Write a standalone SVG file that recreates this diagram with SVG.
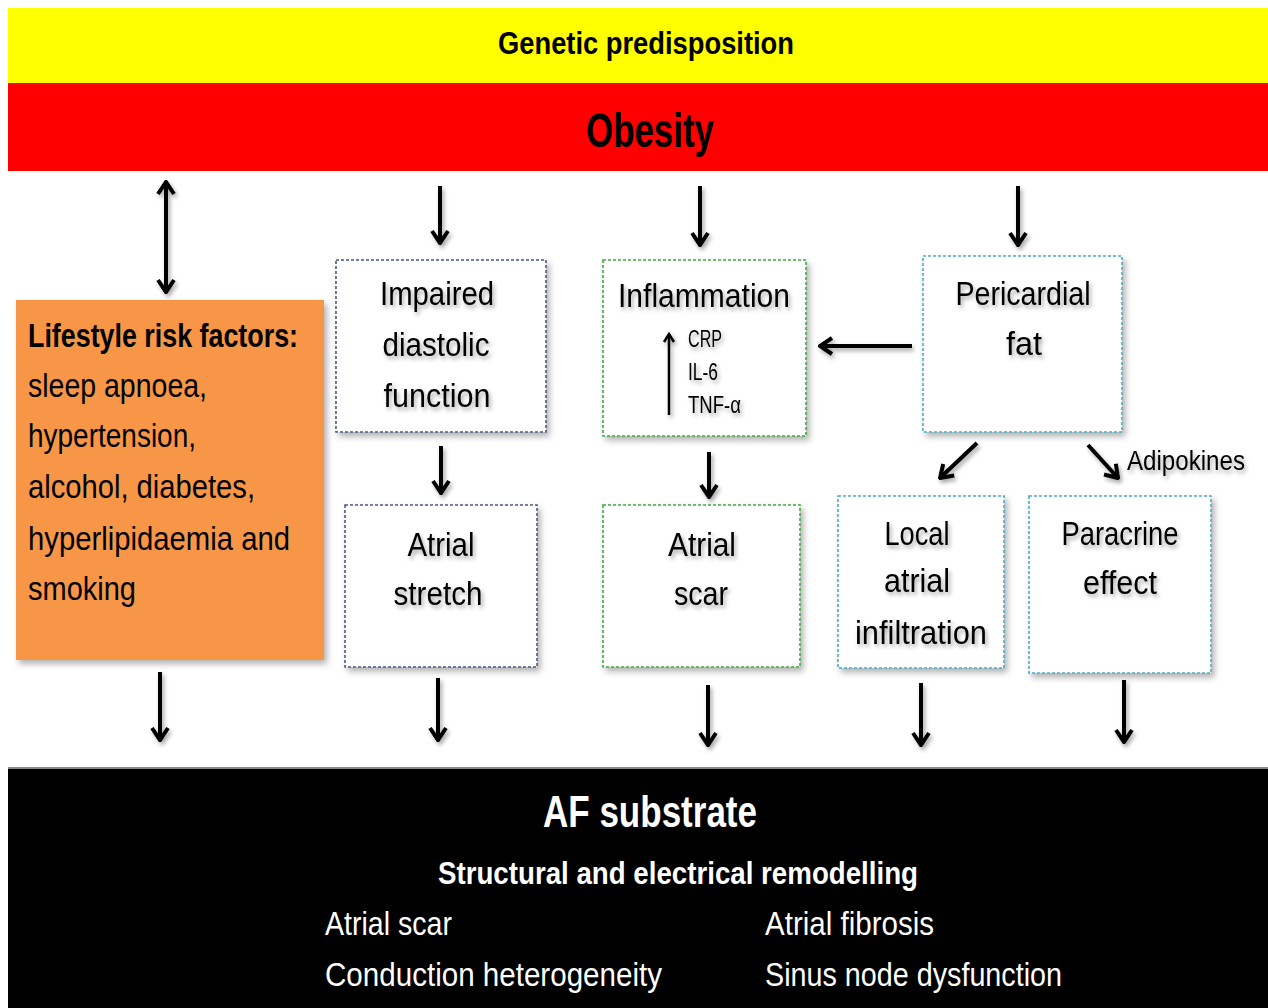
<svg xmlns="http://www.w3.org/2000/svg" width="1268" height="1008" viewBox="0 0 1268 1008">
<defs>
  <filter id="sh" x="-20%" y="-20%" width="140%" height="140%">
    <feDropShadow dx="2" dy="3" stdDeviation="2" flood-color="#000" flood-opacity="0.35"/>
  </filter>
  <filter id="bsh" x="-10%" y="-10%" width="120%" height="120%">
    <feDropShadow dx="3" dy="4" stdDeviation="3" flood-color="#000" flood-opacity="0.3"/>
  </filter>
  <marker id="ah" viewBox="0 0 16 20" markerWidth="16" markerHeight="20" refX="14" refY="10" orient="auto-start-reverse" markerUnits="userSpaceOnUse">
    <path d="M2,2 L14,10 L2,18" fill="none" stroke="#000" stroke-width="4"/>
  </marker>
  <marker id="ahs" viewBox="0 0 12 14" markerWidth="12" markerHeight="14" refX="10" refY="7" orient="auto" markerUnits="userSpaceOnUse">
    <path d="M2,2 L10,7 L2,12" fill="none" stroke="#000" stroke-width="2.5"/>
  </marker>
  <style>
    text { font-family: "Liberation Sans", Arial, sans-serif; fill: #000; }
    .b { font-weight: bold; }
    .m { text-anchor: middle; }
    .t32 { font-size: 33px; }
    .w { fill: #fff; }
    .box { fill: #fff; stroke-width: 1.6; stroke-dasharray: 3 2; }
    .blue { stroke: #4A5A86; }
    .green { stroke: #3DAA3D; }
    .teal { stroke: #4BACC6; }
    .arr { stroke: #000; stroke-width: 4; fill: none; marker-end: url(#ah); }
  </style>
</defs>
<rect x="0" y="0" width="1268" height="1008" fill="#fff"/>

<g id="genetic">
  <rect x="8" y="8" width="1260" height="75" fill="#FFFF00"/>
  <text class="b m" x="646" y="54" font-size="32" textLength="296" lengthAdjust="spacingAndGlyphs">Genetic predisposition</text>
</g>
<g id="obesity">
  <rect x="8" y="83" width="1260" height="88" fill="#FF0000"/>
  <text class="b m" x="650" y="147" font-size="48" textLength="128" lengthAdjust="spacingAndGlyphs">Obesity</text>
</g>

<g id="lifestyle">
  <rect x="16" y="300" width="308" height="360" fill="#F79646" filter="url(#bsh)"/>
  <text class="b t32" x="28" y="347" textLength="270" lengthAdjust="spacingAndGlyphs">Lifestyle risk factors:</text>
  <text class="t32" x="28" y="397" textLength="179" lengthAdjust="spacingAndGlyphs">sleep apnoea,</text>
  <text class="t32" x="28" y="447" textLength="168" lengthAdjust="spacingAndGlyphs">hypertension,</text>
  <text class="t32" x="28" y="498" textLength="227" lengthAdjust="spacingAndGlyphs">alcohol, diabetes,</text>
  <text class="t32" x="28" y="550" textLength="262" lengthAdjust="spacingAndGlyphs">hyperlipidaemia and</text>
  <text class="t32" x="28" y="600" textLength="108" lengthAdjust="spacingAndGlyphs">smoking</text>
</g>

<g id="impaired">
  <rect class="box blue" x="336" y="260" width="210" height="172" filter="url(#bsh)"/>
  <g filter="url(#sh)">
    <text class="m t32" x="437" y="305" textLength="114" lengthAdjust="spacingAndGlyphs">Impaired</text>
    <text class="m t32" x="436" y="356" textLength="107" lengthAdjust="spacingAndGlyphs">diastolic</text>
    <text class="m t32" x="437" y="407" textLength="107" lengthAdjust="spacingAndGlyphs">function</text>
  </g>
</g>

<g id="inflammation">
  <rect class="box green" x="603" y="260" width="203" height="176" filter="url(#bsh)"/>
  <g filter="url(#sh)">
    <text class="m t32" x="704" y="307" textLength="172" lengthAdjust="spacingAndGlyphs">Inflammation</text>
    <line x1="669" y1="415" x2="669" y2="334" stroke="#000" stroke-width="2.5" marker-end="url(#ahs)"/>
    <text x="688" y="347" font-size="23" textLength="34" lengthAdjust="spacingAndGlyphs">CRP</text>
    <text x="688" y="380" font-size="23" textLength="30" lengthAdjust="spacingAndGlyphs">IL-6</text>
    <text x="688" y="413" font-size="23" textLength="53" lengthAdjust="spacingAndGlyphs">TNF-α</text>
  </g>
</g>

<g id="pericardial">
  <rect class="box teal" x="923" y="256" width="199" height="176" filter="url(#bsh)"/>
  <g filter="url(#sh)">
    <text class="m t32" x="1023" y="305" textLength="135" lengthAdjust="spacingAndGlyphs">Pericardial</text>
    <text class="m t32" x="1024" y="355" textLength="36" lengthAdjust="spacingAndGlyphs">fat</text>
  </g>
</g>

<g id="stretch">
  <rect class="box blue" x="345" y="505" width="192" height="162" filter="url(#bsh)"/>
  <g filter="url(#sh)">
    <text class="m t32" x="441" y="556" textLength="67" lengthAdjust="spacingAndGlyphs">Atrial</text>
    <text class="m t32" x="438" y="605" textLength="89" lengthAdjust="spacingAndGlyphs">stretch</text>
  </g>
</g>

<g id="scar">
  <rect class="box green" x="603" y="505" width="197" height="162" filter="url(#bsh)"/>
  <g filter="url(#sh)">
    <text class="m t32" x="702" y="556" textLength="68" lengthAdjust="spacingAndGlyphs">Atrial</text>
    <text class="m t32" x="701" y="605" textLength="54" lengthAdjust="spacingAndGlyphs">scar</text>
  </g>
</g>

<g id="local">
  <rect class="box teal" x="838" y="496" width="166" height="172" filter="url(#bsh)"/>
  <g filter="url(#sh)">
    <text class="m t32" x="917" y="545" textLength="65" lengthAdjust="spacingAndGlyphs">Local</text>
    <text class="m t32" x="917" y="592" textLength="66" lengthAdjust="spacingAndGlyphs">atrial</text>
    <text class="m t32" x="921" y="644" textLength="132" lengthAdjust="spacingAndGlyphs">infiltration</text>
  </g>
</g>

<g id="paracrine">
  <rect class="box teal" x="1029" y="496" width="182" height="177" filter="url(#bsh)"/>
  <g filter="url(#sh)">
    <text class="m t32" x="1120" y="545" textLength="117" lengthAdjust="spacingAndGlyphs">Paracrine</text>
    <text class="m t32" x="1120" y="594" textLength="74" lengthAdjust="spacingAndGlyphs">effect</text>
  </g>
</g>

<g id="af-substrate">
  <rect x="8" y="768" width="1260" height="240" fill="#000"/>
  <line x1="8" y1="768" x2="1268" y2="768" stroke="#888" stroke-width="2"/>
  <text class="b m w" x="650" y="827" font-size="44" textLength="214" lengthAdjust="spacingAndGlyphs">AF substrate</text>
  <text class="b m w" x="678" y="884" font-size="32" textLength="480" lengthAdjust="spacingAndGlyphs">Structural and electrical remodelling</text>
  <text class="w" x="325" y="935" font-size="34" textLength="127" lengthAdjust="spacingAndGlyphs">Atrial scar</text>
  <text class="w" x="765" y="935" font-size="34" textLength="169" lengthAdjust="spacingAndGlyphs">Atrial fibrosis</text>
  <text class="w" x="325" y="986" font-size="34" textLength="337" lengthAdjust="spacingAndGlyphs">Conduction heterogeneity</text>
  <text class="w" x="765" y="986" font-size="34" textLength="297" lengthAdjust="spacingAndGlyphs">Sinus node dysfunction</text>
</g>

<g id="adipokines-label">
  <text x="1127" y="470" font-size="27" filter="url(#sh)" textLength="118" lengthAdjust="spacingAndGlyphs">Adipokines</text>
</g>

<g id="connectors" filter="url(#sh)">
  <line class="arr" x1="166" y1="182" x2="166" y2="292" marker-start="url(#ah)"/>
  <line class="arr" x1="440" y1="186" x2="440" y2="243"/>
  <line class="arr" x1="700" y1="186" x2="700" y2="245"/>
  <line class="arr" x1="1018" y1="186" x2="1018" y2="245"/>
  <line class="arr" x1="912" y1="346" x2="820" y2="346"/>
  <line class="arr" x1="441" y1="446" x2="441" y2="493"/>
  <line class="arr" x1="709" y1="452" x2="709" y2="497"/>
  <line class="arr" x1="977" y1="443" x2="940" y2="478"/>
  <line class="arr" x1="1088" y1="445" x2="1118" y2="478"/>
  <line class="arr" x1="160" y1="672" x2="160" y2="740"/>
  <line class="arr" x1="438" y1="678" x2="438" y2="740"/>
  <line class="arr" x1="708" y1="685" x2="708" y2="745"/>
  <line class="arr" x1="921" y1="683" x2="921" y2="745"/>
  <line class="arr" x1="1124" y1="680" x2="1124" y2="742"/>
</g>
</svg>
